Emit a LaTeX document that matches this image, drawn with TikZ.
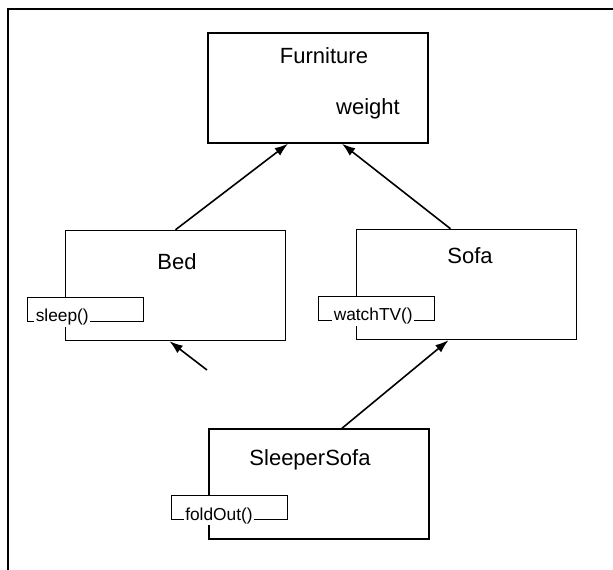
\documentclass[tikz,border=0pt]{standalone}
\usepackage{fontspec}
\setmainfont{Liberation Sans}
\usetikzlibrary{arrows.meta,positioning,calc}

\begin{document}
\begin{tikzpicture}[x=0.75pt, y=-0.75pt,
        classbox/.style={draw, line width=1.1pt, minimum width=165pt, minimum height=82.5pt, inner sep=0pt},
        classname/.style={font=\fontsize{16.5}{19}\selectfont},
        opbox/.style={draw, fill=white, line width=0.9pt, minimum width=87pt, minimum height=18pt, inner sep=0pt},
        optext/.style={fill=white, inner sep=1pt, anchor=base west, font=\fontsize{13}{15}\selectfont},
        inherit/.style={-{Latex[length=10pt,width=7pt]}, line width=1.2pt}]
        \useasboundingbox (0,0) rectangle (613,570);

        % Frame
        \draw[line width=1pt] (8,570) -- (8,9) -- (613,9);

        % Nodes
        \node[classbox] (furniture) at (318,88) {};
        \node[classbox] (bed) at (175.5,285.5) {};
        \node[classbox] (sofa) at (466.5,284.5) {};
        \node[classbox] (sleeperSofa) at (319,484) {};

        % Labels
        \node[classname] (furnitureName) at (324,56) {Furniture};
        \node[classname] (furnitureWeight) at (368,109) {weight};
        \node[classname] (bedName) at (177,262) {Bed};
        \node[classname] (sofaName) at (470,256) {Sofa};
        \node[classname] (sleeperSofaName) at (310,460) {SleeperSofa};

        % Operations
        \node[opbox] (sleepOp) at ($(bed.south west)+(21,-32)$) {};
        \node[optext] (sleepText) at ($(sleepOp.south west)+(7,0)$) {sleep()};
        \node[opbox] (watchOp) at ($(sofa.south west)+(21,-32)$) {};
        \node[optext] (watchText) at ($(watchOp.south west)+(14,0)$) {watchTV()};
        \node[opbox] (foldOp) at ($(sleeperSofa.south west)+(21,-32)$) {};
        \node[optext] (foldText) at ($(foldOp.south west)+(13,0)$) {foldOut()};

        % Links
        \draw[inherit] (bed.north) -- ($(furniture.south)+(-30,0)$);
        \draw[inherit] ($(sofa.north)+(-16,0)$) -- ($(furniture.south)+(24,0)$);
        \draw[inherit] ($(sleeperSofa.north)+(23,0)$) -- ($(sofa.south)+(-18,0)$);
        \coordinate (sleeperLink) at (207,370);
        \draw[inherit] (sleeperLink) -- ($(bed.south)+(-6,0)$);
\end{tikzpicture}
\end{document}
